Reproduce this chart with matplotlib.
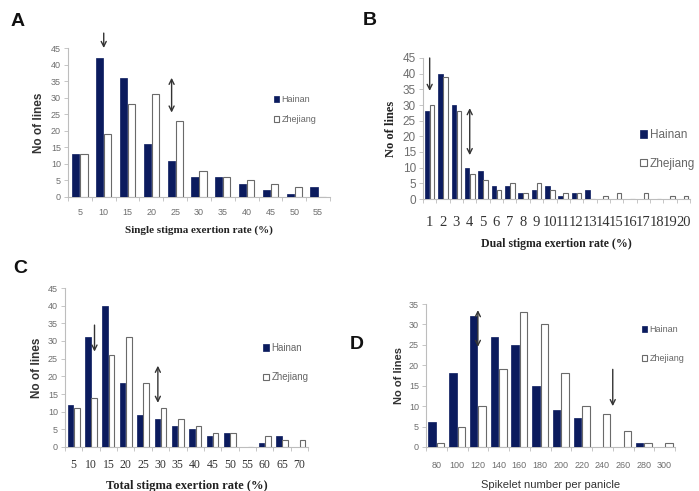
import matplotlib
matplotlib.use("Agg")
import matplotlib.pyplot as plt
from matplotlib.patches import Patch
import numpy as np

# ---------------- data ----------------
a_cats = ["5", "10", "15", "20", "25", "30", "35", "40", "45", "50", "55"]
a_hainan = [13, 42, 36, 16, 11, 6, 6, 4, 2, 1, 3]
a_zhejiang = [13, 19, 28, 31, 23, 8, 6, 5, 4, 3, 0]

b_cats = [str(i) for i in range(1, 21)]
b_hainan = [28, 40, 30, 10, 9, 4, 4, 2, 3, 4, 1, 2, 3, 0, 0, 0, 0, 0, 0, 0]
b_zhejiang = [30, 39, 28, 8, 6, 3, 5, 2, 5, 3, 2, 2, 0, 1, 2, 0, 2, 0, 1, 1]

c_cats = ["5", "10", "15", "20", "25", "30", "35", "40", "45", "50", "55", "60", "65", "70"]
c_hainan = [12, 31, 40, 18, 9, 8, 6, 5, 3, 4, 0, 1, 3, 0]
c_zhejiang = [11, 14, 26, 31, 18, 11, 8, 6, 4, 4, 0, 3, 2, 2]

d_cats = ["80", "100", "120", "140", "160", "180", "200", "220", "240", "260", "280", "300"]
d_hainan = [6, 18, 32, 27, 25, 15, 9, 7, 0, 0, 1, 0]
d_zhejiang = [1, 5, 10, 19, 33, 30, 18, 10, 8, 4, 1, 1]

series_names = ["Hainan", "Zhejiang"]

NAVY = "#0b1b5e"
EDGE = "#6a6a6a"
SPINE = "#bdbdbd"
TICKC = "#6e6e6e"
W, H = 699, 491

fig = plt.figure(figsize=(W / 100, H / 100), dpi=100)


def px_axes(l, t, r, b):
    return fig.add_axes([l / W, 1 - b / H, (r - l) / W, (b - t) / H])


def panel(ax, cats, h, z, width, ymax, ystep, xt_font, yt_font, ylab_font, xlab, xlab_font,
          xpad=7, lpad=5):
    n = len(cats)
    x = np.arange(n)
    off = width / 2 + 0.02
    ax.bar(x - off, h, width, color=NAVY, edgecolor=NAVY, linewidth=0.5, zorder=3)
    ax.bar(x + off, z, width, color="white", edgecolor=EDGE, linewidth=0.8, zorder=3)
    ax.set_xlim(-0.5, n - 0.5)
    ax.set_ylim(0, ymax)
    ax.set_yticks(np.arange(0, ymax + 0.1, ystep))
    ax.set_xticks(x)
    ax.set_xticklabels(cats, **xt_font)
    ax.tick_params(axis="x", which="major", length=0, pad=xpad)
    ax.set_xticks(np.arange(-0.5, n, 1.0), minor=True)
    ax.tick_params(axis="x", which="minor", length=3, color=SPINE, width=0.6)
    ax.tick_params(axis="y", length=3, color=SPINE, width=0.6, pad=2)
    for lab in ax.get_yticklabels():
        lab.set_fontfamily(yt_font["family"])
        lab.set_fontsize(yt_font["size"])
        lab.set_color(yt_font.get("color", TICKC))
    for s in ["top", "right"]:
        ax.spines[s].set_visible(False)
    for s in ["left", "bottom"]:
        ax.spines[s].set_color(SPINE)
        ax.spines[s].set_linewidth(0.8)
    ax.set_ylabel("No of lines", **ylab_font)
    ax.set_xlabel(xlab, labelpad=lpad, **xlab_font)


def legend(ax, xpx, ypx, size, spacing, color="#666666"):
    handles = [Patch(facecolor=NAVY, edgecolor=NAVY, linewidth=0.5),
               Patch(facecolor="white", edgecolor=EDGE, linewidth=0.8)]
    leg = ax.legend(handles, series_names, loc="upper left",
                    bbox_to_anchor=(xpx / W, 1 - ypx / H), bbox_transform=fig.transFigure,
                    frameon=False, handlelength=0.6, handleheight=0.6, handletextpad=0.25,
                    labelspacing=spacing, borderpad=0, borderaxespad=0,
                    prop={"family": "Liberation Sans", "size": size})
    for t in leg.get_texts():
        t.set_color(color)


def arrow(ax, x, y0, y1, double=False):
    style = "<->" if double else "->"
    ax.annotate("", xy=(x, y1), xytext=(x, y0), annotation_clip=False,
                arrowprops=dict(arrowstyle=style, color="#333333", lw=1.0,
                                shrinkA=0, shrinkB=0, mutation_scale=9))


serif_b = lambda s: {"family": "Liberation Serif", "weight": "bold", "size": s, "color": "#222222"}
sans_b = lambda s: {"family": "Liberation Sans", "weight": "bold", "size": s, "color": "#333333"}

# ---------- A ----------
axA = px_axes(68, 48, 330, 197)
panel(axA, a_cats, a_hainan, a_zhejiang, 0.3, 45, 5,
      {"family": "Liberation Sans", "size": 6.5, "color": TICKC},
      {"family": "Liberation Sans", "size": 6.5},
      sans_b(8.5), "Single stigma exertion rate (%)", serif_b(8), xpad=8, lpad=6)
legend(axA, 274, 95, 6.5, 1.2)
arrow(axA, 1.0, 49.5, 45)
arrow(axA, 3.85, 36, 25.5, double=True)

# ---------- B ----------
axB = px_axes(423, 58, 690, 199)
panel(axB, b_cats, b_hainan, b_zhejiang, 0.34, 45, 5,
      {"family": "Liberation Serif", "size": 10.5, "color": "#333333"},
      {"family": "Liberation Sans", "size": 8.5},
      serif_b(9), "Dual stigma exertion rate (%)", serif_b(8.5), xpad=12, lpad=7)
legend(axB, 640, 129, 8.5, 1.4)
arrow(axB, 0.0, 45, 34.5)
arrow(axB, 3.0, 29, 14, double=True)

# ---------- C ----------
axC = px_axes(65, 288, 308, 447)
panel(axC, c_cats, c_hainan, c_zhejiang, 0.32, 45, 5,
      {"family": "Liberation Serif", "size": 8.5, "color": "#333333"},
      {"family": "Liberation Sans", "size": 6.5},
      sans_b(8.5), "Total stigma exertion rate (%)", serif_b(9), xpad=9, lpad=6)
legend(axC, 263, 343, 7, 2.0)
arrow(axC, 1.2, 34.5, 27)
arrow(axC, 4.85, 23, 12.5, double=True)

# ---------- D ----------
axD = px_axes(426, 304, 675, 447)
panel(axD, d_cats, d_hainan, d_zhejiang, 0.36, 35, 5,
      {"family": "Liberation Sans", "size": 6.5, "color": TICKC},
      {"family": "Liberation Sans", "size": 6.5},
      sans_b(8), "Spikelet number per panicle",
      {"family": "Liberation Sans", "size": 8, "color": "#333333"}, xpad=10, lpad=7)
legend(axD, 642, 325, 6.5, 2.2)
arrow(axD, 2.0, 33.5, 24.5, double=True)
arrow(axD, 8.5, 19, 10)

# panel letters
for letter, xp, yp in [("A", 11, 26), ("B", 363, 25), ("C", 13, 273), ("D", 350, 349)]:
    fig.text(xp / W, 1 - yp / H, letter, fontsize=14, fontweight="bold",
             family="Liberation Sans", color="#111111")

fig.savefig("out.png", dpi=100)
